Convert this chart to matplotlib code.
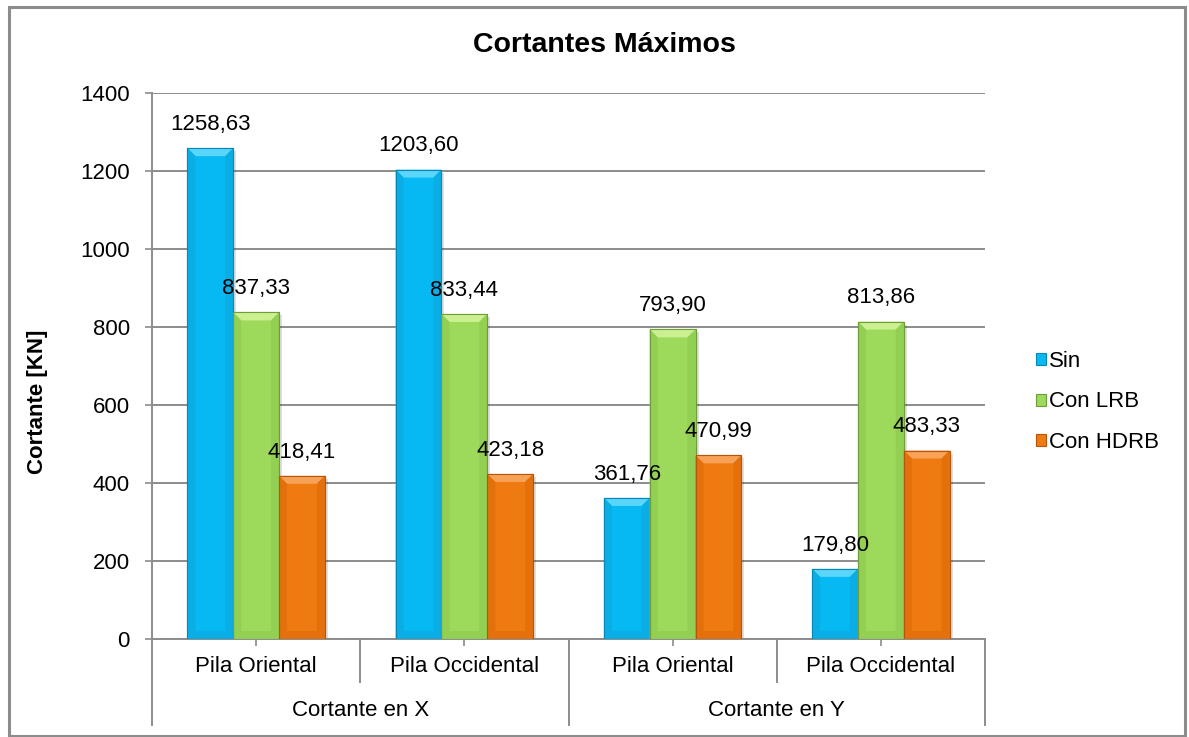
import matplotlib.pyplot as plt
import numpy as np
from matplotlib.lines import Line2D
from matplotlib.patches import Polygon, Rectangle
from matplotlib.transforms import blended_transform_factory

plt.rcParams["font.family"] = ["Liberation Sans", "DejaVu Sans"]

# data
piers = ["Pila Oriental", "Pila Occidental", "Pila Oriental", "Pila Occidental"]
directions = ["Cortante en X", "Cortante en Y"]
series_names = ["Sin", "Con LRB", "Con HDRB"]
sin_values = [1258.63, 1203.60, 361.76, 179.80]
lrb_values = [837.33, 833.44, 793.90, 813.86]
hdrb_values = [418.41, 423.18, 470.99, 483.33]
y_ticks = [0, 200, 400, 600, 800, 1000, 1200, 1400]

# (main, light top, dark side, edge)
palette = [
    ("#06B9F2", "#5AD6FB", "#0BAEE4", "#0A86B4"),
    ("#9DD95B", "#CBF092", "#92CF52", "#6E9E3A"),
    ("#F07A12", "#F7A256", "#E4700C", "#B4560C"),
]
grey = "#8C8C8C"

fig = plt.figure(figsize=(11.89, 7.37), dpi=100)
ax = fig.add_axes([152 / 1189, 1 - 639 / 737, 833 / 1189, 546 / 737])

# figure frame
fig.patches.append(
    Rectangle((9 / 1189, 1 / 737), 1176 / 1189, 729 / 737,
              transform=fig.transFigure, fill=False, edgecolor=grey, linewidth=2.2)
)

ax.set_xlim(-0.5, len(piers) - 0.5)
ax.set_ylim(0, 1400)
ax.set_yticks(y_ticks)
ax.grid(axis="y", color=grey, linewidth=1.4)
ax.set_axisbelow(True)
for side in ("top", "right"):
    ax.spines[side].set_visible(False)
ax.spines["left"].set_color(grey)
ax.spines["bottom"].set_color(grey)
ax.spines["left"].set_linewidth(1.4)
ax.spines["bottom"].set_linewidth(1.4)
ax.tick_params(axis="y", length=5, width=1.2, color=grey, pad=11, labelsize=16)
ax.set_xticks(np.arange(len(piers)))
ax.set_xticklabels([])
ax.tick_params(axis="x", length=5, width=1.2, color=grey)

# pixel -> data conversion for the bevel size
px_x = (len(piers)) / 833
px_y = 1400 / 546
bevel_x = 8 * px_x
bevel_y = 8 * px_y

width = 0.22
x = np.arange(len(piers))
all_values = [sin_values, lrb_values, hdrb_values]

for i, (values, colours) in enumerate(zip(all_values, palette)):
    main, light, dark, edge = colours
    positions = x + (i - 1) * width
    bars = ax.bar(positions, values, width=width, color=main,
                  edgecolor=edge, linewidth=0.8, zorder=3)
    for bar, value in zip(bars, values):
        bx, by = bar.get_x(), bar.get_y()
        bw, bh = bar.get_width(), bar.get_height()
        ax.add_patch(Rectangle((bx + bw, by), 3 * px_x, bh - 3 * px_y,
                               color="black", alpha=0.12, linewidth=0, zorder=2))
        top = [(bx, bh), (bx + bw, bh), (bx + bw - bevel_x, bh - bevel_y),
               (bx + bevel_x, bh - bevel_y)]
        bottom = [(bx, by), (bx + bw, by), (bx + bw - bevel_x, by + bevel_y),
                  (bx + bevel_x, by + bevel_y)]
        left = [(bx, by), (bx + bevel_x, by + bevel_y),
                (bx + bevel_x, bh - bevel_y), (bx, bh)]
        right = [(bx + bw, by), (bx + bw - bevel_x, by + bevel_y),
                 (bx + bw - bevel_x, bh - bevel_y), (bx + bw, bh)]
        for poly, c in ((top, light), (bottom, dark), (left, dark), (right, dark)):
            ax.add_patch(Polygon(poly, closed=True, facecolor=c,
                                 edgecolor="none", zorder=3.5))
        ax.add_patch(Rectangle((bx, by), bw, bh, fill=False, edgecolor=edge,
                               linewidth=0.8, zorder=3.6))
        ax.annotate(f"{value:.2f}".replace(".", ","),
                    (bx + bw / 2, bh), xytext=(0, 17), textcoords="offset points",
                    ha="center", va="center", fontsize=16, zorder=5)

# multi-level category axis
trans = blended_transform_factory(ax.transData, ax.transAxes)
ax_h = 546
for pos, label in zip(x, piers):
    ax.text(pos, -28 / ax_h, label, transform=trans, ha="center", va="center",
            fontsize=16)
for g, label in enumerate(directions):
    ax.text(2 * g + 0.5, -71 / ax_h, label, transform=trans, ha="center",
            va="center", fontsize=16)
for b in np.arange(-0.5, len(piers), 1.0):
    outer = (b + 0.5) % 2 == 0
    depth = -86 / ax_h if outer else -43 / ax_h
    ax.add_line(Line2D([b, b], [0, depth], transform=trans, color=grey,
                       linewidth=1.4, clip_on=False))

fig.text(604 / 1189, 1 - 45 / 737, "Cortantes Máximos", ha="center",
         va="center", fontsize=20.5, fontweight="bold")
fig.text(37 / 1189, 1 - 402 / 737, "Cortante [KN]", ha="center", va="center",
         rotation=90, fontsize=16, fontweight="bold")

handles = [
    Rectangle((0, 0), 1, 1, facecolor=c[0], edgecolor=c[3], linewidth=0.8)
    for c in palette
]
fig.legend(handles, series_names, loc="center left",
           bbox_to_anchor=(1036 / 1189, 1 - 402 / 737), frameon=False,
           fontsize=16, handlelength=0.45, handleheight=0.45,
           handletextpad=0.15, labelspacing=0.88, borderpad=0,
           borderaxespad=0)

fig.savefig("out.png", dpi=100)
